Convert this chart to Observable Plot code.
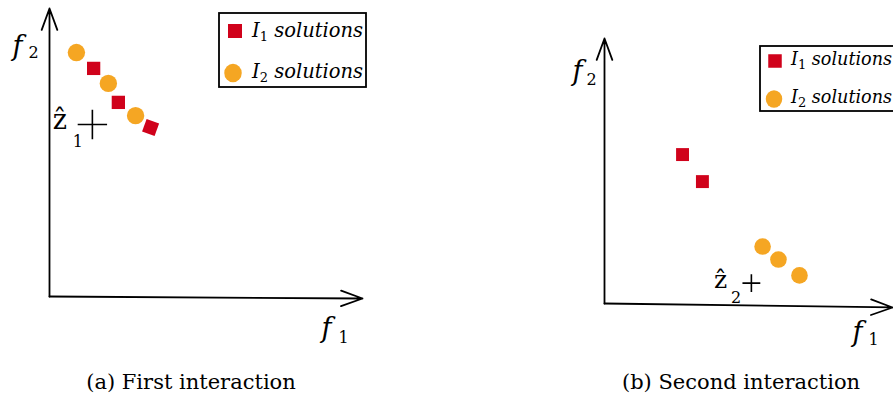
<!DOCTYPE html>
<html><head><meta charset="utf-8">
<script src="https://cdn.jsdelivr.net/npm/d3@7"></script>
<script src="https://cdn.jsdelivr.net/npm/@observablehq/plot@0.6"></script>
<style>
html,body{margin:0;padding:0;background:#fff;}
body{width:893px;height:399px;overflow:hidden;}
#fig{position:relative;width:893px;height:399px;overflow:hidden;}
.panel{position:absolute;top:0;}
.caption{position:absolute;font-family:"DejaVu Serif",serif;font-size:21px;line-height:21px;white-space:nowrap;color:#000;transform:translateX(-50%);}
#overlay{position:absolute;left:0;top:0;pointer-events:none;}
</style></head>
<body><div id="fig"></div>
<script>
// ---------------- data (schematic objective units, 0–10 on both axes) ----------------
const captions = ["(a) First interaction", "(b) Second interaction"];
const legendLetter = ["I", "I"];
const legendIndex = ["1", "2"];
const legendWord = ["solutions", "solutions"];

// Panel (a): First interaction
const aI1f1 = [1.41, 2.20, 3.23];
const aI1f2 = [7.92, 6.74, 5.87];
const aI1rot = [0, 0, 20];
const aI2f1 = [0.86, 1.88, 2.75];
const aI2f2 = [8.47, 7.40, 6.28];
const aRefF1 = [1.37];
const aRefF2 = [5.97];
const aXAxisEnd = [10, -0.07];
const aYAxisEnd = [0, 10];

// Panel (b): Second interaction
const bI1f1 = [2.71, 3.40];
const bI1f2 = [5.62, 4.60];
const bI1rot = [0, 0];
const bI2f1 = [5.49, 6.04, 6.77];
const bI2f2 = [2.15, 1.66, 1.06];
const bRefF1 = [5.10];
const bRefF2 = [0.77];
const bXAxisEnd = [10, -0.15];
const bYAxisEnd = [0, 10];

// Label anchors (same units): [f1-label, f2-label, reference-point label]
const labelMain = ["f", "f", "ẑ"];
const aLabelSub = ["1", "2", "1"];
const bLabelSub = ["1", "2", "2"];
const aLabelX = [8.69, -1.18, 0.10];
const aLabelY = [-1.39, 8.37, 5.83];
const bLabelX = [8.61, -1.11, 3.80];
const bLabelY = [-1.43, 8.42, 0.57];

// ---------------- styling ----------------
const RED = "#d0021b", ORANGE = "#f5a623";
const ITALIC_FONT = "DejaVu Serif";

function buildPanel(o) {
  const I1 = o.I1f1.map((v, i) => ({f1: v, f2: o.I1f2[i], rot: o.I1rot[i]}));
  const I2 = o.I2f1.map((v, i) => ({f1: v, f2: o.I2f2[i]}));
  const ref = o.refF1.map((v, i) => ({f1: v, f2: o.refF2[i]}));
  const axes = [
    {x1: 0, y1: 0, x2: o.xEnd[0], y2: o.xEnd[1]},
    {x1: 0, y1: 0, x2: o.yEnd[0], y2: o.yEnd[1]}
  ];
  const labels = labelMain.map((m, i) => ({main: m, sub: o.sub[i], x: o.lx[i], y: o.ly[i]}));
  const labelMarks = labels.flatMap((l, i) => [
    Plot.text([l], {x: "x", y: "y", text: "main", fontStyle: o.mainStyle[i], fontFamily: ITALIC_FONT,
      fontSize: o.mainSize[i], textAnchor: "start", lineAnchor: "bottom", fill: "#000"}),
    Plot.text([l], {x: "x", y: "y", text: "sub", fontFamily: ITALIC_FONT,
      fontSize: o.subSize, textAnchor: "start", lineAnchor: "bottom", fill: "#000",
      dx: o.subDx[i], dy: o.subDy[i]})
  ]);
  return Plot.plot({
    width: o.width, height: o.height,
    marginLeft: o.ml, marginRight: o.mr, marginTop: o.mt, marginBottom: o.mb,
    style: {background: "transparent", overflow: "visible"},
    x: {domain: [0, 10], axis: null},
    y: {domain: [0, 10], axis: null},
    marks: [
      Plot.arrow(axes, {x1: "x1", y1: "y1", x2: "x2", y2: "y2", stroke: "#000",
        strokeWidth: 1.8, headLength: 19, headAngle: 40}),
      Plot.dot(I2, {x: "f1", y: "f2", r: o.circleR, fill: ORANGE, symbol: "circle"}),
      Plot.dot(I1, {x: "f1", y: "f2", r: o.squareR, fill: RED, symbol: "square", rotate: "rot"}),
      Plot.dot(ref, {x: "f1", y: "f2", r: o.plusR, symbol: "plus", stroke: "#000", strokeWidth: 1.6}),
      ...labelMarks
    ]
  });
}

const fig = document.getElementById("fig");

const chartA = buildPanel({
  width: 380, height: 350, ml: 49, mr: 18, mt: 8, mb: 54,
  I1f1: aI1f1, I1f2: aI1f2, I1rot: aI1rot, I2f1: aI2f1, I2f2: aI2f2,
  refF1: aRefF1, refF2: aRefF2, xEnd: aXAxisEnd, yEnd: aYAxisEnd,
  sub: aLabelSub, lx: aLabelX, ly: aLabelY,
  mainSize: [27, 27, 27], mainStyle: ["italic", "italic", "normal"],
  subSize: 16, subDx: [17, 16, 20], subDy: [6, 3, 18],
  circleR: 8.7, squareR: 7.5, plusR: 9.5
});
chartA.classList.add("panel");
chartA.style.left = "0px";
fig.appendChild(chartA);

const chartB = buildPanel({
  width: 333, height: 350, ml: 44, mr: 1, mt: 38, mb: 47,
  I1f1: bI1f1, I1f2: bI1f2, I1rot: bI1rot, I2f1: bI2f1, I2f2: bI2f2,
  refF1: bRefF1, refF2: bRefF2, xEnd: bXAxisEnd, yEnd: bYAxisEnd,
  sub: bLabelSub, lx: bLabelX, ly: bLabelY,
  mainSize: [27, 27, 25], mainStyle: ["italic", "italic", "normal"],
  subSize: 16, subDx: [16, 14, 17], subDy: [4, 5, 15],
  circleR: 8.3, squareR: 7.3, plusR: 5.8
});
chartB.classList.add("panel");
chartB.style.left = "560px";
fig.appendChild(chartB);

// ---------------- legends (overlay) ----------------
const overlay = d3.select(fig).append("svg").attr("id", "overlay")
  .attr("width", 893).attr("height", 399);

function drawLegend(box, rows, fontSize) {
  const g = overlay.append("g");
  g.append("rect").attr("x", box.x).attr("y", box.y).attr("width", box.w).attr("height", box.h)
    .attr("fill", "#fff").attr("stroke", "#000").attr("stroke-width", 1.8);
  rows.forEach((r, i) => {
    if (i === 0) {
      g.append("rect").attr("x", r.sx - r.s / 2).attr("y", r.sy - r.s / 2)
        .attr("width", r.s).attr("height", r.s).attr("fill", RED);
    } else {
      g.append("ellipse").attr("cx", r.sx).attr("cy", r.sy).attr("rx", r.s / 2).attr("ry", r.s / 2 + 0.6)
        .attr("fill", ORANGE);
    }
    const t = g.append("text").attr("x", r.tx).attr("y", r.ty)
      .attr("font-family", ITALIC_FONT).attr("font-size", fontSize).attr("fill", "#000");
    t.append("tspan").attr("font-style", "italic").text(legendLetter[i]);
    t.append("tspan").attr("font-size", 13).attr("dy", 4).text(legendIndex[i]);
    t.append("tspan").attr("font-style", "italic").attr("dy", -4).text(" " + legendWord[i]);
  });
}
drawLegend({x: 219, y: 13, w: 147, h: 74}, [
  {sx: 235, sy: 31, s: 14, tx: 252, ty: 37},
  {sx: 233, sy: 73, s: 17.5, tx: 252, ty: 78}
], 19.5);
drawLegend({x: 760, y: 46, w: 160, h: 65}, [
  {sx: 775, sy: 61, s: 13.5, tx: 791, ty: 65},
  {sx: 774, sy: 99, s: 16.5, tx: 791, ty: 103}
], 17.6);

// ---------------- captions ----------------
const capX = [191, 741];
captions.forEach((c, i) => {
  const d = document.createElement("div");
  d.className = "caption";
  d.style.left = capX[i] + "px";
  d.style.top = "372px";
  d.textContent = c;
  fig.appendChild(d);
});
</script>
</body></html>
